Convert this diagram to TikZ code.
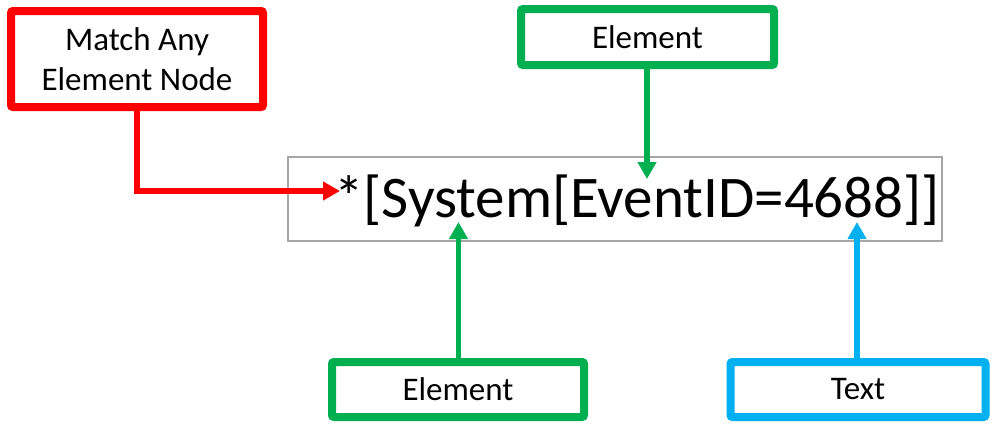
\documentclass[tikz,border=0pt]{standalone}
\usepackage{fontspec}
\setmainfont{Carlito}
\usetikzlibrary{arrows.meta}
\definecolor{xred}{HTML}{FF0000}
\definecolor{xgreen}{HTML}{00B050}
\definecolor{xblue}{HTML}{00B0F0}
\definecolor{xgray}{HTML}{A6A6A6}
\begin{document}
\begin{tikzpicture}[x=1pt,y=-1pt,
  labelbox/.style={draw, line width=8pt, rounded corners=2pt, fill=white, inner sep=0pt,
    align=center, font=\fontsize{33}{40}\selectfont},
  conn/.style={line width=5.5pt, -{Triangle[length=17pt,width=18pt]}}]
\useasboundingbox (0,0) rectangle (998,432);
% main expression box
\node[draw=xgray, line width=1.3pt, minimum width=654pt, minimum height=84pt, inner sep=0pt] (expr) at (615,199) {};
\node[anchor=base west, inner sep=0pt, font=\fontsize{59}{62}\selectfont] (exprtext) at (334,217) {*[System[EventID=4688]]};
% label boxes
\node[labelbox, draw=xred, minimum width=252pt, minimum height=96pt] (any) at (137,59) {Match Any\\Element Node};
\node[labelbox, draw=xgreen, minimum width=253pt, minimum height=56pt] (eltop) at (647.5,37) {Element};
\node[labelbox, draw=xgreen, minimum width=252pt, minimum height=55pt] (elbot) at (458,389.5) {Element};
\node[labelbox, draw=xblue, minimum width=255pt, minimum height=55pt] (txt) at (858,389.5) {Text};
% arrow tips
\coordinate (tipany) at (340,191);
\coordinate (tiptop) at (647,179);
\coordinate (tipbot) at (458.5,222);
\coordinate (tiptxt) at (857,222);
% connectors
\draw[conn, draw=xred] (any.south) |- (tipany);
\draw[conn, draw=xgreen] (tiptop |- eltop.south) -- (tiptop);
\draw[conn, draw=xgreen] (tipbot |- elbot.north) -- (tipbot);
\draw[conn, draw=xblue] (tiptxt |- txt.north) -- (tiptxt);
\end{tikzpicture}
\end{document}
